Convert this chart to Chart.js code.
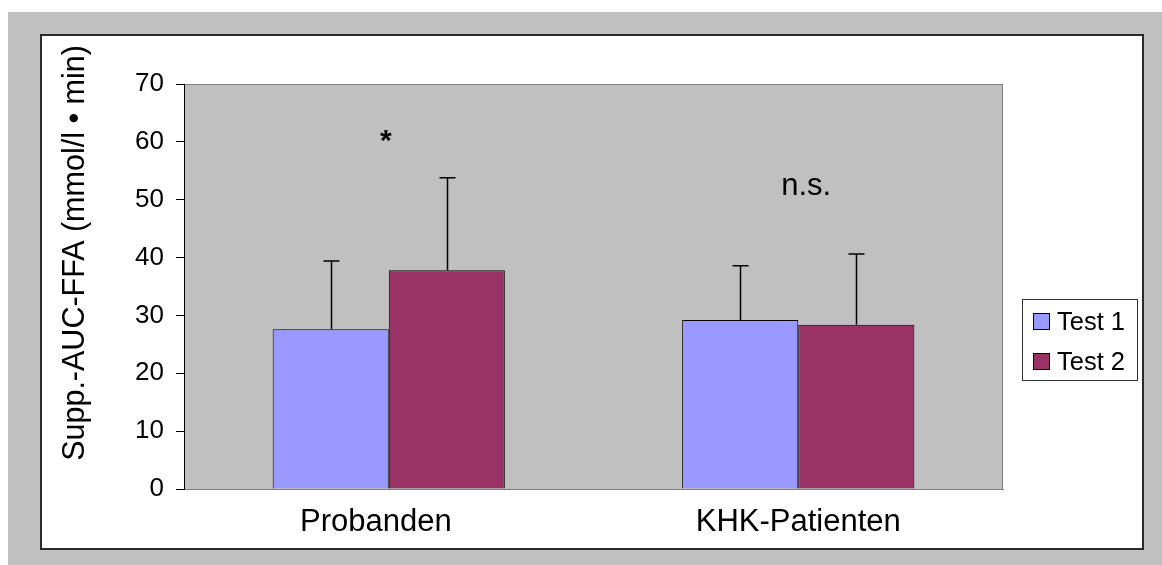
<!DOCTYPE html>
<html>
<head>
<meta charset="utf-8">
<script src="https://cdn.jsdelivr.net/npm/chart.js@4/dist/chart.umd.min.js"></script>
<style>
  html, body { margin: 0; padding: 0; background: #fff; }
  canvas { display: block; }
</style>
</head>
<body>
<canvas id="chart" width="1162" height="565"></canvas>
<script>
const categories = ['Probanden   ', 'KHK-Patienten'];
const seriesNames = ['Test 1', 'Test 2'];
const test1 = [27.6, 29.2];
const test2 = [37.8, 28.4];
const test1Sd = [11.8, 9.4];
const test2Sd = [16.0, 12.2];
const markers = ['*', 'n.s.'];
const markerValues = [60.8, 52.3];
const yTicks = [0, 10, 20, 30, 40, 50, 60, 70];
const yTitle = 'Supp.-AUC-FFA (mmol/l \u2022 min)';

const colors = ['#9999FF', '#993366'];
const FONT = 'Arial, "Liberation Sans", sans-serif';

// background, white panel with frame, grey plot area
const framePlugin = {
  id: 'frame',
  beforeDraw(chart) {
    const ctx = chart.ctx;
    const a = chart.chartArea;
    ctx.save();
    ctx.fillStyle = '#ffffff';
    ctx.fillRect(0, 0, chart.width, chart.height);
    ctx.fillStyle = '#c0c0c0';
    ctx.fillRect(8, 12, chart.width - 8, chart.height - 12);
    ctx.fillStyle = '#ffffff';
    ctx.fillRect(41, 35, 1102, 514);
    ctx.strokeStyle = '#2a2a2a';
    ctx.lineWidth = 2;
    ctx.strokeRect(41, 35, 1102, 514);
    ctx.fillStyle = '#c0c0c0';
    ctx.fillRect(a.left, a.top, a.right - a.left, a.bottom - a.top);
    ctx.strokeStyle = '#808080';
    ctx.lineWidth = 1;
    ctx.strokeRect(a.left + 0.5, a.top + 0.5, a.right - a.left - 1, a.bottom - a.top);
    ctx.restore();
  }
};

// error bars, markers, y title, legend
const extrasPlugin = {
  id: 'extras',
  afterDatasetsDraw(chart) {
    const ctx = chart.ctx;
    const y = chart.scales.y;
    const x = chart.scales.x;
    const sds = [test1Sd, test2Sd];
    ctx.save();
    ctx.strokeStyle = '#000';
    ctx.lineWidth = 1.5;
    chart.data.datasets.forEach((ds, di) => {
      chart.getDatasetMeta(di).data.forEach((bar, i) => {
        const top = y.getPixelForValue(ds.data[i] + sds[di][i]);
        const bx = Math.round(bar.x) + 0.5;
        ctx.beginPath();
        ctx.moveTo(bx, bar.y);
        ctx.lineTo(bx, top);
        ctx.moveTo(bx - 8, top);
        ctx.lineTo(bx + 8, top);
        ctx.stroke();
      });
    });

    ctx.fillStyle = '#000';
    ctx.textAlign = 'center';
    ctx.textBaseline = 'middle';
    markers.forEach((m, i) => {
      ctx.font = m === '*' ? 'bold 30px ' + FONT : '31px ' + FONT;
      const dx = m === '*' ? -3 : 8;
      ctx.fillText(m, x.getPixelForValue(i) + dx, y.getPixelForValue(markerValues[i]) + (m === '*' ? 5 : 0));
    });

    // rotated y-axis title
    ctx.save();
    ctx.translate(76, 253);
    ctx.rotate(-Math.PI / 2);
    ctx.font = '30.5px ' + FONT;
    ctx.fillText(yTitle, 0, 0);
    ctx.restore();

    // legend box
    ctx.fillStyle = '#fff';
    ctx.fillRect(1022, 299, 115, 81);
    ctx.strokeStyle = '#333';
    ctx.lineWidth = 1;
    ctx.strokeRect(1022.5, 299.5, 115, 81);
    ctx.font = '25.5px ' + FONT;
    ctx.textAlign = 'left';
    seriesNames.forEach((name, i) => {
      const cy = 322 + i * 40;
      ctx.fillStyle = colors[i];
      ctx.fillRect(1033, cy - 9, 17, 17);
      ctx.strokeStyle = '#000';
      ctx.strokeRect(1033.5, cy - 8.5, 16, 16);
      ctx.fillStyle = '#000';
      ctx.fillText(name, 1057, cy + 1);
    });
    ctx.restore();
  }
};

new Chart(document.getElementById('chart').getContext('2d'), {
  type: 'bar',
  data: {
    labels: categories,
    datasets: [
      { label: seriesNames[0], data: test1, backgroundColor: colors[0], borderColor: '#000', borderWidth: 1 },
      { label: seriesNames[1], data: test2, backgroundColor: colors[1], borderColor: '#000', borderWidth: 1 }
    ]
  },
  options: {
    responsive: false,
    animation: false,
    devicePixelRatio: 1,
    layout: { padding: { left: 0, top: 84, right: 159, bottom: 0 } },
    datasets: { bar: { categoryPercentage: 0.567, barPercentage: 1.0 } },
    plugins: { legend: { display: false }, tooltip: { enabled: false } },
    scales: {
      x: {
        grid: { display: false, drawTicks: false },
        border: { display: true, color: '#808080', width: 1 },
        ticks: { color: '#000', padding: 15, font: { family: FONT, size: 31 } },
        afterFit(scale) { scale.height = 76; }
      },
      y: {
        min: 0,
        max: 70,
        afterBuildTicks(scale) { scale.ticks = yTicks.map(v => ({ value: v })); },
        grid: { drawOnChartArea: false, color: '#000', tickLength: 8 },
        border: { color: '#000', width: 1 },
        ticks: { color: '#000', padding: 12, font: { family: FONT, size: 26 } },
        afterFit(scale) { scale.width = 184; }
      }
    }
  },
  plugins: [framePlugin, extrasPlugin]
});
</script>
</body>
</html>
